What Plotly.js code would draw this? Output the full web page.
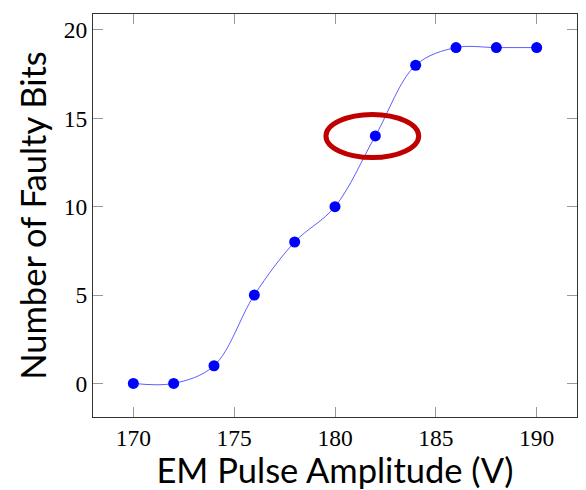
<!DOCTYPE html>
<html>
<head>
<meta charset="utf-8">
<script src="https://cdn.plot.ly/plotly-3.0.1.min.js"></script>
<style>html,body{margin:0;padding:0;background:#fff;}#chart{width:586px;height:490px;}</style>
</head>
<body>
<div id="chart"></div>
<script>
const amplitudes = [170, 172, 174, 176, 178, 180, 182, 184, 186, 188, 190];
const faultyBits = [0, 0, 1, 5, 8, 10, 14, 18, 19, 19, 19];
const xTicks = [170, 175, 180, 185, 190];
const yTicks = [0, 5, 10, 15, 20];

const trace = {
  x: amplitudes,
  y: faultyBits,
  mode: 'lines+markers',
  line: {color: 'rgba(40,40,255,0.75)', width: 1, shape: 'spline', smoothing: 1},
  marker: {color: '#0000ff', size: 11},
  hoverinfo: 'skip'
};

const tickFont = {family: 'Liberation Serif, DejaVu Serif, serif', size: 23.5, color: '#000'};
const titleFont = {family: 'Lato, Open Sans, sans-serif', size: 34.5, color: '#000'};

const layout = {
  width: 586, height: 490,
  margin: {l: 93, r: 9, t: 14, b: 73},
  paper_bgcolor: '#fff', plot_bgcolor: '#fff',
  showlegend: false,
  xaxis: {
    range: [168, 192], tickvals: xTicks, ticktext: xTicks.map(String),
    ticks: 'inside', ticklen: 10, tickcolor: '#999', tickwidth: 1,
    showline: true, linecolor: '#333', linewidth: 1, mirror: 'ticks',
    showgrid: false, zeroline: false, tickfont: tickFont,
    title: {text: 'EM Pulse Amplitude (V)', font: titleFont, standoff: 0}
  },
  yaxis: {
    range: [-1.9, 20.9], tickvals: yTicks, ticktext: yTicks.map(String),
    ticks: 'inside', ticklen: 10, tickcolor: '#999', tickwidth: 1,
    showline: true, linecolor: '#333', linewidth: 1, mirror: 'ticks',
    showgrid: false, zeroline: false, tickfont: tickFont,
    title: {text: 'Number of Faulty Bits', font: titleFont, standoff: 6}
  },
  shapes: [{
    type: 'circle', xref: 'x', yref: 'y',
    x0: 179.55, x1: 184.15, y0: 12.78, y1: 15.22,
    line: {color: '#c00000', width: 5}
  }]
};

Plotly.newPlot('chart', [trace], layout, {displayModeBar: false, staticPlot: true});
</script>
</body>
</html>
